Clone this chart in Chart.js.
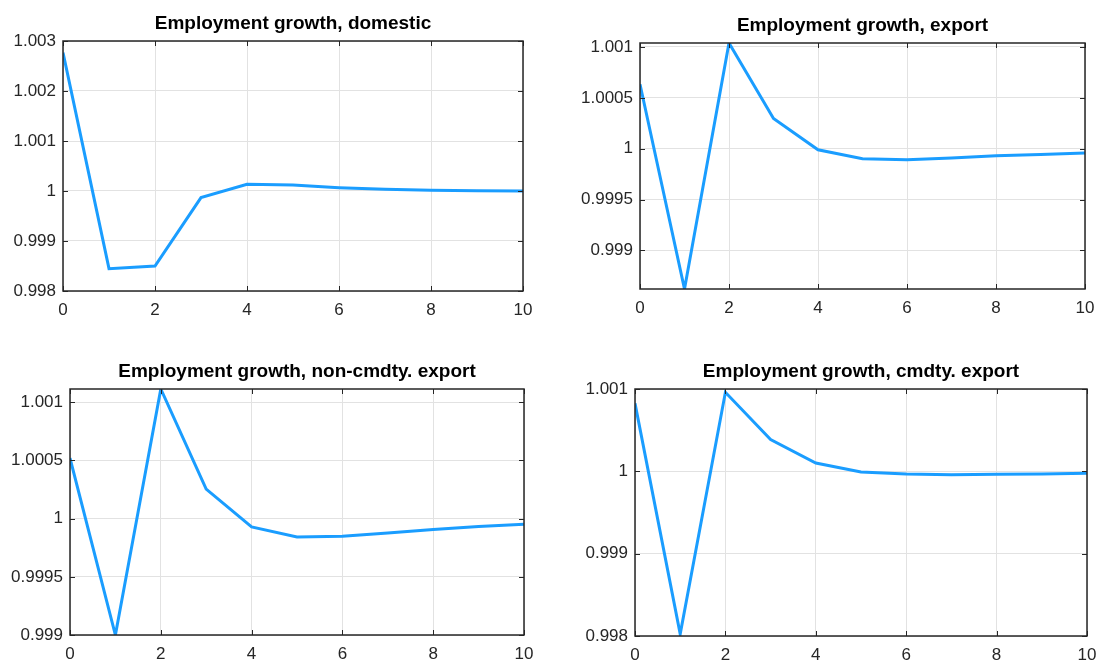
<!DOCTYPE html>
<html>
<head>
<meta charset="utf-8">
<script src="https://cdn.jsdelivr.net/npm/chart.js@4/dist/chart.umd.min.js"></script>
<style>
  html, body { margin: 0; padding: 0; background: #fff; overflow: hidden; width: 1096px; height: 663px; }
  canvas { position: absolute; }
</style>
</head>
<body>
<canvas id="c-domestic"></canvas>
<canvas id="c-export"></canvas>
<canvas id="c-noncmdty"></canvas>
<canvas id="c-cmdty"></canvas>
<script>
// ── Data: impulse responses over 0..10 periods ────────────────────────────
const STEPS = [0, 1, 2, 3, 4, 5, 6, 7, 8, 9, 10];

const empDomestic = [1.002767, 0.998447, 0.998500, 0.999867, 1.000133, 1.000120,
                     1.000067, 1.000033, 1.000013, 1.000007, 1.000000];
const empExport   = [1.000634, 0.998621, 1.001039, 1.000297, 0.999990, 0.999902,
                     0.999892, 0.999908, 0.999931, 0.999944, 0.999958];
const empNonCmdty = [1.000520, 0.999000, 1.001114, 1.000254, 0.999929, 0.999843,
                     0.999849, 0.999877, 0.999906, 0.999932, 0.999951];
const empCmdty    = [1.000826, 0.998024, 1.000960, 1.000385, 1.000101, 0.999992,
                     0.999968, 0.999960, 0.999964, 0.999968, 0.999976];

const X_TICKS = [0, 2, 4, 6, 8, 10];
const Y_TICKS_DOMESTIC = [0.998, 0.999, 1, 1.001, 1.002, 1.003];
const Y_TICKS_EXPORT   = [0.999, 0.9995, 1, 1.0005, 1.001];
const Y_TICKS_NONCMDTY = [0.999, 0.9995, 1, 1.0005, 1.001];
const Y_TICKS_CMDTY    = [0.998, 0.999, 1, 1.001];

const Y_LIM_DOMESTIC = [0.998, 1.003];
const Y_LIM_EXPORT   = [0.998621, 1.001039];
const Y_LIM_NONCMDTY = [0.999, 1.001114];
const Y_LIM_CMDTY    = [0.998, 1.001];

const TITLES = [
  'Employment growth, domestic',
  'Employment growth, export',
  'Employment growth, non-cmdty. export',
  'Employment growth, cmdty. export',
];

// ── Look ──────────────────────────────────────────────────────────────────
const LINE_COLOR  = '#1a9dff';
const AXIS_COLOR  = '#262626';
const GRID_COLOR  = '#e2e2e2';
const FONT_FAMILY = '"Liberation Sans", Arial, Helvetica, sans-serif';

// frame rect (l, t, r, b) and title centre line for each subplot
const PANELS = [
  { id: 'c-domestic', title: TITLES[0], data: empDomestic, yTicks: Y_TICKS_DOMESTIC, yLim: Y_LIM_DOMESTIC,
    canvasLeft: 0,   canvasTop: 0,   l: 63,  t: 41,  r: 523,  b: 291, titleY: 24 },
  { id: 'c-export',   title: TITLES[1], data: empExport,   yTicks: Y_TICKS_EXPORT,   yLim: Y_LIM_EXPORT,
    canvasLeft: 560, canvasTop: 0,   l: 640, t: 43,  r: 1085, b: 289, titleY: 25.5 },
  { id: 'c-noncmdty', title: TITLES[2], data: empNonCmdty, yTicks: Y_TICKS_NONCMDTY, yLim: Y_LIM_NONCMDTY,
    canvasLeft: 0,   canvasTop: 340, l: 70,  t: 389, r: 524,  b: 635, titleY: 372 },
  { id: 'c-cmdty',    title: TITLES[3], data: empCmdty,    yTicks: Y_TICKS_CMDTY,    yLim: Y_LIM_CMDTY,
    canvasLeft: 560, canvasTop: 340, l: 635, t: 389, r: 1087, b: 636, titleY: 372 },
];

const PAD_RIGHT = 24;
const X_AXIS_H  = 32;
const TITLE_SIZE = 19;
const TICK_SIZE = 17;

// box + inward tick marks on all four sides
const matlabFrame = {
  id: 'matlabFrame',
  afterDraw(chart) {
    const { ctx, chartArea: { left, top, right, bottom }, scales: { x, y } } = chart;
    const len = 5;
    ctx.save();
    ctx.strokeStyle = AXIS_COLOR;
    ctx.lineWidth = 1;
    ctx.beginPath();
    x.ticks.forEach(t => {
      const px = Math.round(x.getPixelForValue(t.value)) + 0.5;
      ctx.moveTo(px, bottom); ctx.lineTo(px, bottom - len);
      ctx.moveTo(px, top);    ctx.lineTo(px, top + len);
    });
    y.ticks.forEach(t => {
      const py = Math.round(y.getPixelForValue(t.value)) + 0.5;
      ctx.moveTo(left, py);  ctx.lineTo(left + len, py);
      ctx.moveTo(right, py); ctx.lineTo(right - len, py);
    });
    ctx.stroke();
    ctx.lineWidth = 1.5;
    ctx.strokeRect(left, top, right - left, bottom - top);
    ctx.restore();
  },
};

function fmtTick(v) {
  return String(+v.toFixed(4));
}

function makePanel(p) {
  const canvas = document.getElementById(p.id);
  const width  = p.r + PAD_RIGHT - p.canvasLeft;
  const height = p.b + X_AXIS_H - p.canvasTop;
  canvas.width  = width;
  canvas.height = height;
  canvas.style.left = p.canvasLeft + 'px';
  canvas.style.top  = p.canvasTop + 'px';

  const lineH = TITLE_SIZE * 1.2;
  const padTop = p.titleY - p.canvasTop - lineH / 2;
  const padBottom = p.t - p.canvasTop - lineH - padTop;
  const yAxisW = p.l - p.canvasLeft;

  return new Chart(canvas.getContext('2d'), {
    type: 'line',
    data: {
      datasets: [{
        data: STEPS.map((s, i) => ({ x: s, y: p.data[i] })),
        borderColor: LINE_COLOR,
        borderWidth: 3,
        pointRadius: 0,
        tension: 0,
        fill: false,
      }],
    },
    options: {
      responsive: false,
      animation: false,
      devicePixelRatio: 1,
      layout: { padding: { left: 0, right: PAD_RIGHT, top: 0, bottom: 0 } },
      plugins: {
        legend: { display: false },
        tooltip: { enabled: false },
        title: {
          display: true,
          text: p.title,
          fullSize: false,
          color: '#000',
          font: { family: FONT_FAMILY, size: TITLE_SIZE, weight: 'bold', lineHeight: 1.2 },
          padding: { top: padTop, bottom: padBottom },
        },
      },
      scales: {
        x: {
          type: 'linear',
          min: 0,
          max: 10,
          afterBuildTicks: s => { s.ticks = X_TICKS.map(v => ({ value: v })); },
          afterFit: s => { s.height = X_AXIS_H; },
          grid: { color: GRID_COLOR, drawTicks: false },
          border: { display: false },
          ticks: {
            color: AXIS_COLOR,
            padding: 9,
            maxRotation: 0,
            autoSkip: false,
            font: { family: FONT_FAMILY, size: TICK_SIZE },
            callback: v => String(v),
          },
        },
        y: {
          type: 'linear',
          min: p.yLim[0],
          max: p.yLim[1],
          afterBuildTicks: s => { s.ticks = p.yTicks.map(v => ({ value: v })); },
          afterFit: s => { s.width = yAxisW; },
          grid: { color: GRID_COLOR, drawTicks: false },
          border: { display: false },
          ticks: {
            color: AXIS_COLOR,
            padding: 7,
            autoSkip: false,
            font: { family: FONT_FAMILY, size: TICK_SIZE },
            callback: v => fmtTick(v),
          },
        },
      },
    },
    plugins: [matlabFrame],
  });
}

PANELS.forEach(makePanel);
</script>
</body>
</html>
